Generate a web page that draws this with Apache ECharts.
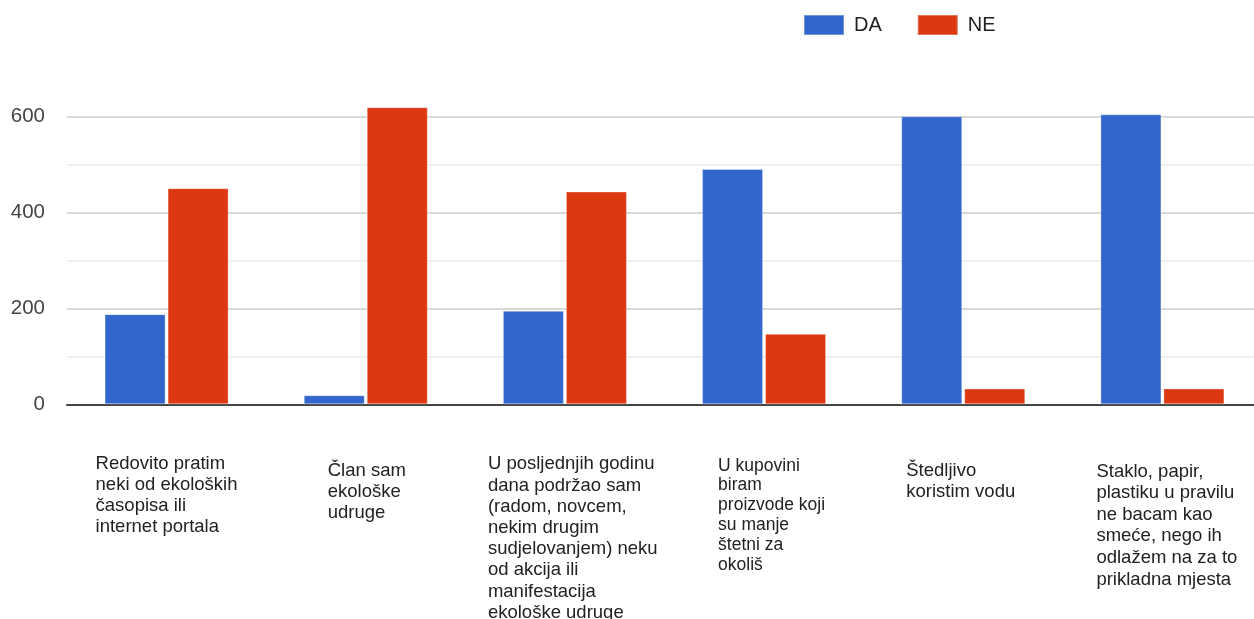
<!DOCTYPE html>
<html>
<head>
<meta charset="utf-8">
<script src="https://cdn.jsdelivr.net/npm/echarts@6/dist/echarts.min.js"></script>
<style>
html,body{margin:0;padding:0;background:#fff;}
#chart{width:1254px;height:619px;}
</style>
</head>
<body>
<div id="chart"></div>
<script>
var categories = [
  'Redovito pratim\nneki od ekoloških\nčasopisa ili\ninternet portala',
  'Član sam\nekološke\nudruge',
  'U posljednjih godinu\ndana podržao sam\n(radom, novcem,\nnekim drugim\nsudjelovanjem) neku\nod akcija ili\nmanifestacija\nekološke udruge',
  'U kupovini\nbiram\nproizvode koji\nsu manje\nštetni za\nokoliš',
  'Štedljivo\nkoristim vodu',
  'Staklo, papir,\nplastiku u pravilu\nne bacam kao\nsmeće, nego ih\nodlažem na za to\nprikladna mjesta'
];
var seriesNames = ['DA', 'NE'];
var daValues = [188, 19, 195, 491, 601, 605];
var neValues = [451, 620, 444, 147, 33, 33];
var yTickLabels = [0, 200, 400, 600];

var FONT = "'Liberation Sans', Arial, sans-serif";
// per-label layout (block width, first-line offset, font size, line height)
var labelBlockW = [142, 76, 154, 92, 114, 132];
var labelOffset = [0, 7, 0, 2, 7, 7];
var labelFont = [18.5, 18.5, 18.5, 17.5, 18.5, 18.5];
var labelLH = [21, 21, 21.2, 19.8, 21, 21.6];

var rich = {};
for (var i = 0; i < categories.length; i++) {
  rich['c' + i] = { width: labelBlockW[i], align: 'left', fontSize: labelFont[i], lineHeight: labelLH[i], fontFamily: FONT, color: '#222' };
  rich['s' + i] = { fontSize: 1, lineHeight: Math.max(labelOffset[i], 0.01), color: 'rgba(0,0,0,0)' };
}

var chart = echarts.init(document.getElementById('chart'), null, { renderer: 'canvas' });
chart.setOption({
  animation: false,
  textStyle: { fontFamily: FONT },
  legend: {
    data: seriesNames,
    left: 803, top: 14, padding: 0,
    itemWidth: 40, itemHeight: 20, itemGap: 35,
    icon: 'rect',
    textStyle: { fontSize: 20, color: '#222', fontFamily: FONT, padding: [0, 0, 0, 5] }
  },
  grid: { left: 67, width: 1195, top: 68.8, bottom: 214.7, outerBoundsMode: 'none', containLabel: false },
  xAxis: {
    type: 'category',
    data: categories,
    axisTick: { show: false },
    axisLine: { lineStyle: { color: '#444', width: 2 } },
    axisLabel: {
      interval: 0,
      margin: 49.5,
      verticalAlign: 'top',
      align: 'center',
      formatter: function (val, idx) {
        var lines = val.split('\n');
        var out = '';
        if (labelOffset[idx] > 0) out += '{s' + idx + '| }\n';
        out += lines.map(function (l) { return '{c' + idx + '|' + l + '}'; }).join('\n');
        return out;
      },
      rich: rich
    }
  },
  yAxis: {
    type: 'value',
    min: 0, max: 700, interval: 100,
    axisLine: { show: false },
    axisTick: { show: false },
    axisLabel: {
      margin: 22,
      fontSize: 20.5,
      color: '#444',
      fontFamily: FONT,
      formatter: function (v) { return yTickLabels.indexOf(v) >= 0 ? String(v) : ''; }
    },
    splitLine: {
      showMaxLine: false,
      lineStyle: { color: ['#cccccc', '#ebebeb'], width: 1.5 }
    }
  },
  series: [
    {
      name: seriesNames[0], type: 'bar', data: daValues,
      barWidth: 61, barGap: '3.3%',
      itemStyle: { color: '#3366cc', borderColor: 'rgba(255,255,255,0.3)', borderWidth: 1 }
    },
    {
      name: seriesNames[1], type: 'bar', data: neValues,
      barWidth: 61, barGap: '3.3%',
      itemStyle: { color: '#dc3912', borderColor: 'rgba(255,255,255,0.3)', borderWidth: 1 }
    }
  ]
});
</script>
</body>
</html>
